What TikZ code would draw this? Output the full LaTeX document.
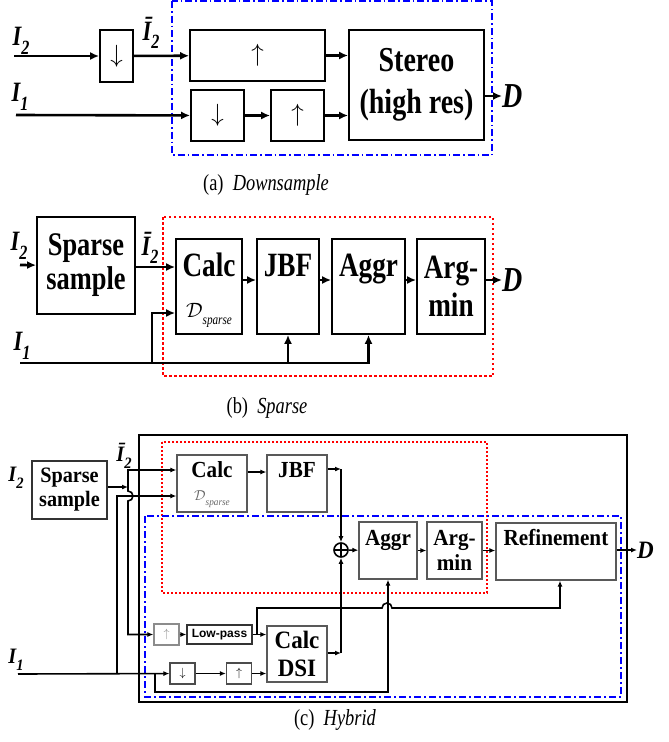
\documentclass[tikz,border=0pt]{standalone}
\usepackage{fontspec}
\newfontfamily\tnr[FakeStretch=0.8]{Liberation Serif}
\newfontfamily\tnrc[FakeStretch=0.92]{Liberation Serif}
\newfontfamily\arl{Liberation Sans}
\usetikzlibrary{arrows.meta,positioning}
\newcommand{\sub}[2]{#1\raisebox{-.3em}{\scalebox{.72}{#2}}}
\newcommand{\dsp}[1]{$\mathcal{D}$\raisebox{-.35em}{\itshape\fontsize{#1}{#1}\selectfont sparse}}
\tikzset{
  blk/.style={draw,line width=1.8pt,inner sep=0pt,align=center,font=\tnr\bfseries\fontsize{34}{41}\selectfont},
  sblk/.style={draw=black!65,line width=1.3pt,inner sep=0pt,align=center,font=\tnrc\bfseries\fontsize{23}{25}\selectfont},
  tinybox/.style={draw=black!70,line width=1.2pt,inner sep=0pt,minimum width=25pt,minimum height=21pt,font=\fontsize{13}{13}\selectfont},
  sig/.style={inner sep=0pt,font=\tnr\bfseries\itshape\fontsize{28}{28}\selectfont},
  sigc/.style={inner sep=0pt,font=\tnrc\bfseries\itshape\fontsize{22}{22}\selectfont},
  ar/.style={line width=2.6pt,-{Latex[length=9pt,width=8pt]}},
  sar/.style={line width=1.6pt,-{Latex[length=6pt,width=5pt]}},
  capt/.style={font=\tnr\fontsize{23}{25}\selectfont},
  oplus/.style={circle,draw,line width=1.6pt,minimum size=14pt,inner sep=0pt,
    path picture={\draw[line width=1.6pt] (path picture bounding box.north) -- (path picture bounding box.south)
      (path picture bounding box.west) -- (path picture bounding box.east);}},
}
\begin{document}
\begin{tikzpicture}[x=1pt,y=-1pt]
  \useasboundingbox (0,0) rectangle (669,742);
  % (a) downsample
  \draw[blue,line width=1.5pt,dash pattern=on 7pt off 3pt on 1.5pt off 3pt] (172,1) rectangle (492,155);
  \node[sig] (I2a) at (21,41) {\sub{I}{2}};
  \coordinate (I2as) at (14,56);
  \node[blk,minimum width=33pt,minimum height=52pt,font=\fontsize{26}{26}\selectfont] (dnA) at (116.5,56) {$\downarrow$};
  \node[sig] (I2bara) at (151,33) {\sub{Ī}{2}};
  \node[blk,minimum width=135pt,minimum height=51pt,font=\fontsize{30}{30}\selectfont] (upA) at (257.5,55.5) {$\uparrow$};
  \node[sig] (I1a) at (20,97) {\sub{I}{1}};
  \coordinate (I1as) at (16,115);
  \node[blk,minimum width=53pt,minimum height=51pt,font=\fontsize{28}{28}\selectfont] (dnB) at (217.5,115.5) {$\downarrow$};
  \node[blk,minimum width=53pt,minimum height=51pt,font=\fontsize{28}{28}\selectfont] (upB) at (297.5,115.5) {$\uparrow$};
  \node[blk,minimum width=135pt,minimum height=110pt,font=\tnr\bfseries\fontsize{35}{42}\selectfont] (stA) at (416.5,85) {Stereo\\(high res)};
  \node[sig,anchor=west,font=\tnr\bfseries\itshape\fontsize{35}{35}\selectfont] (DA) at (502,96) {D};
  \draw[ar] (I2as) -- (dnA);
  \draw[ar] (dnA) -- (upA);
  \draw[ar] (I1as) -- (dnB);
  \draw[ar] (dnB) -- (upB);
  \draw[ar] (upA) -- (upA -| stA.west);
  \draw[ar] (upB) -- (upB -| stA.west);
  \draw[ar] ([yshift=-11pt]stA.east) -- (DA.west);
  \node[capt] (capA) at (266,185) {(a)\ \ \textit{Downsample}};

  % (b) sparse
  \draw[red,line width=2.4pt,dash pattern=on 2.5pt off 2.5pt] (163,217) rectangle (493,376);
  \node[sig] (I2b) at (19,246) {\sub{I}{2}};
  \coordinate (I2bs) at (20,265);
  \node[blk,minimum width=98pt,minimum height=97pt,font=\tnr\bfseries\fontsize{33}{34}\selectfont] (spB) at (86,265.5) {Sparse\\sample};
  \node[sig] (I2barb) at (150,248) {\sub{Ī}{2}};
  \node[blk,minimum width=66pt,text height=37pt,text depth=58pt] (calcB) at (209,286.5) {Calc};
  \node[above=7pt of calcB.south,inner sep=0pt,font=\tnr\fontsize{21}{21}\selectfont] (dspB) {\dsp{14}};
  \foreach \n/\x/\w/\t in {jbfB/288/62/JBF, aggrB/368.5/73/Aggr}
    \node[blk,minimum width=\w pt,text height=37pt,text depth=58pt] (\n) at (\x,286.5) {\t};
  \node[blk,minimum width=68pt,minimum height=95pt,font=\tnr\bfseries\fontsize{34}{38}\selectfont] (argB) at (451,286.5) {Arg-\\min};
  \node[sig,anchor=west,font=\tnr\bfseries\itshape\fontsize{35}{35}\selectfont] (DB) at (502,280) {D};
  \coordinate (bj) at ([yshift=-1.5pt]spB.east);
  \draw[ar] (I2bs) -- (spB);
  \draw[ar] (bj) -- (bj -| calcB.west);
  \foreach \a/\b in {calcB/jbfB, jbfB/aggrB, aggrB/argB}
    \draw[ar] ([yshift=6.5pt]\a.east) -- ([yshift=6.5pt]\b.west);
  \draw[ar] ([yshift=6.5pt]argB.east) -- (DB.west);
  \node[sig] (I1b) at (22,346) {\sub{I}{1}};
  \coordinate (I1bs) at (20,363);
  \coordinate (bk) at (152,363);
  \coordinate (bk2) at (152,313);
  \draw[ar] (I1bs) -- (aggrB.south |- I1bs) -- (aggrB.south);
  \draw[ar] (jbfB.south |- I1bs) -- (jbfB.south);
  \draw[ar] (bk) -- (bk2) -- (bk2 -| calcB.west);
  \node[capt] (capB) at (267,408) {(b)\ \ \textit{Sparse}};

  % (c) hybrid
  \draw[line width=1.6pt] (139,435) rectangle (627,702);
  \draw[red,line width=1.4pt,dash pattern=on 2pt off 2pt] (162,442) rectangle (487,593);
  \draw[blue,line width=1.6pt,dash pattern=on 7pt off 3pt on 2pt off 3pt] (145,516) rectangle (621,697);
  \node[sigc] (I2c) at (16,478) {\sub{I}{2}};
  \coordinate (I2cs) at (20,491);
  \node[sblk,draw=black!80,line width=1.5pt,minimum width=75pt,minimum height=58pt,font=\tnrc\bfseries\fontsize{22}{24}\selectfont] (spC) at (69.5,490) {Sparse\\sample};
  \node[sigc] (I2barc) at (124,456) {\sub{Ī}{2}};
  \node[sblk,minimum width=70pt,text height=22pt,text depth=35pt] (calcC) at (212,483.5) {Calc};
  \node[above=5pt of calcC.south,inner sep=0pt,text=black!60,font=\tnrc\fontsize{14}{14}\selectfont] (dspC) {\dsp{10}};
  \node[sblk,minimum width=60pt,text height=22pt,text depth=35pt] (jbfC) at (297,483.5) {JBF};
  \node[oplus] (plus) at (341,550) {};
  \node[sblk,minimum width=58pt,text height=23pt,text depth=34pt] (aggrC) at (388,550.5) {Aggr};
  \node[sblk,minimum width=55pt,minimum height=57pt] (argC) at (454.5,550.5) {Arg-\\min};
  \node[sblk,minimum width=120pt,text height=22pt,text depth=35pt] (refC) at (556,551.5) {Refinement};
  \node[sigc,anchor=west,font=\tnrc\bfseries\itshape\fontsize{25}{25}\selectfont] (DC) at (637,550) {D};
  \node[tinybox,draw=black!45,text=black!45] (upC1) at (166.5,634.5) {$\uparrow$};
  \node[draw=black!80,line width=1.2pt,inner sep=0pt,minimum width=65pt,minimum height=19pt,font=\arl\bfseries\fontsize{12}{12}\selectfont] (lpC) at (219.5,634.5) {Low-pass};
  \node[sblk,minimum width=60pt,minimum height=56pt,font=\tnrc\bfseries\fontsize{25}{28}\selectfont] (dsiC) at (297,654) {Calc\\DSI};
  \node[tinybox] (dnC) at (182.5,673.5) {$\downarrow$};
  \node[tinybox] (upC2) at (239,673.5) {$\uparrow$};
  \node[sigc] (I1c) at (16,660) {\sub{I}{1}};
  \coordinate (I1cs) at (18,674);
  % image 2 branches
  \coordinate (jA) at (128,487);
  \coordinate (cT) at (128,470);
  \coordinate (cL) at (128,634.5);
  \draw[sar] ([yshift=3pt]spC.east) -- (jA);
  \draw[line width=1.6pt,{Latex[length=6pt,width=5pt]}-{Latex[length=6pt,width=5pt]}] (cT -| calcC.west) -- (cT) -- (128,491) arc (90:-90:5pt) -- (cL) -- (upC1);
  \draw[sar] (upC1) -- (lpC);
  \draw[sar] (lpC) -- (lpC -| dsiC.west);
  % image 1 branches
  \coordinate (i1a) at (117,674);
  \coordinate (cM) at (117,496);
  \coordinate (i1b) at (155,674);
  \coordinate (cB) at (155,692);
  \draw[sar] (I1cs) -- (dnC);
  \draw[sar] (i1a) -- (cM) -- (cM -| calcC.west);
  \draw[sar] (i1b) -- (cB) -- (cB -| aggrC.south) -- (aggrC.south);
  \draw[sar] (dnC) -- (upC2);
  \draw[sar] (upC2) -- (upC2 -| dsiC.west);
  % low-pass to refinement
  \coordinate (lpj) at (257,634.5);
  \coordinate (rj) at (560,608);
  \draw[sar] (lpj) -- (257,608) -- (382,608) arc (180:0:5pt) -- (rj) -- (rj |- refC.south);
  % merge
  \coordinate (cj) at ([yshift=11.5pt]calcC.east);
  \coordinate (jj) at (341,469);
  \coordinate (sj) at (341,653);
  \draw[sar] (cj) -- (cj -| jbfC.west);
  \draw[sar] (jbfC.east |- jj) -- (jj);
  \draw[sar] (jj) -- (plus);
  \draw[sar] (dsiC.east |- sj) -- (sj);
  \draw[sar] (sj) -- (plus);
  \draw[sar] (plus) -- (aggrC);
  \draw[sar] (aggrC) -- (argC);
  \draw[sar] (argC) -- (argC -| refC.west);
  \draw[sar] (refC.east |- DC.west) -- (DC.west);
  \node[capt] (capC) at (335,720) {(c)\ \ \textit{Hybrid}};
\end{tikzpicture}
\end{document}
